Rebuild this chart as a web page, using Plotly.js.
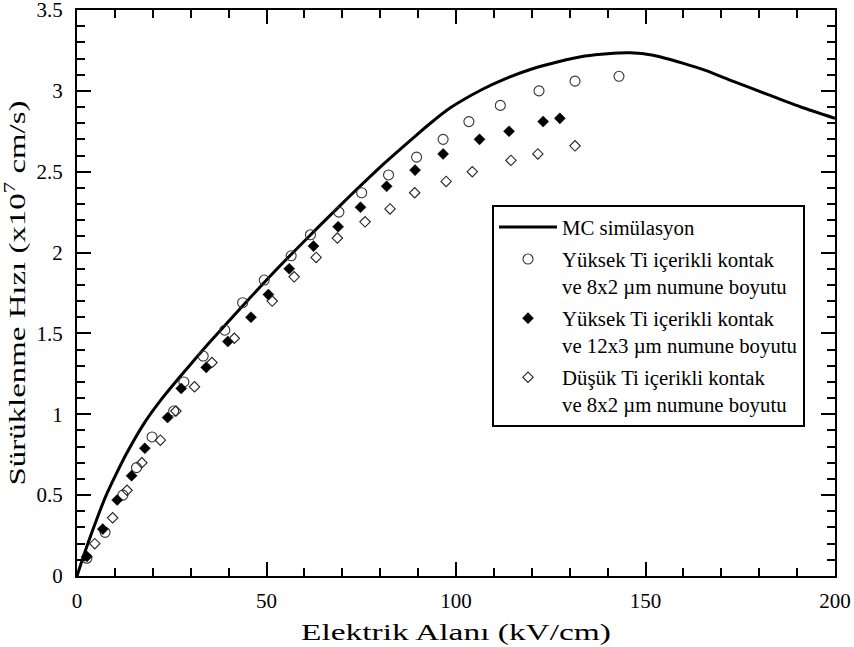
<!DOCTYPE html>
<html>
<head>
<meta charset="utf-8">
<script src="https://cdn.plot.ly/plotly-3.0.1.min.js"></script>
<style>
  html, body { margin: 0; padding: 0; background: #fff; }
  #chart { width: 854px; height: 647px; }
</style>
</head>
<body>
<div id="chart"></div>
<script>
// Monte Carlo simulated drift velocity (x10^7 cm/s) vs electric field (kV/cm)
const mcField = [0, 1, 2, 4, 6, 8, 10, 13, 18, 22, 26, 30, 35, 43.5, 52, 61, 67, 72, 81, 89.5, 93, 98.5, 107, 112.5, 120, 127, 134, 140, 146, 152, 160, 166, 173, 182, 191, 200];
const mcVelocity = [0, 0.072, 0.142, 0.275, 0.40, 0.515, 0.615, 0.755, 0.955, 1.085, 1.20, 1.31, 1.445, 1.665, 1.88, 2.095, 2.235, 2.35, 2.55, 2.725, 2.795, 2.895, 3.01, 3.07, 3.135, 3.18, 3.215, 3.23, 3.235, 3.22, 3.17, 3.125, 3.06, 2.98, 2.90, 2.83];

// High-Ti contact, 8x2 µm sample
const hiTi8x2Field = [2.6, 7.4, 12.1, 15.7, 19.8, 25.5, 28.2, 33.3, 39, 43.7, 49.4, 56.5, 61.6, 69.1, 75.1, 82.2, 89.6, 96.6, 103.4, 111.7, 121.9, 131.4, 143];
const hiTi8x2Velocity = [0.11, 0.27, 0.50, 0.67, 0.86, 1.02, 1.20, 1.36, 1.52, 1.69, 1.83, 1.98, 2.11, 2.25, 2.37, 2.48, 2.59, 2.70, 2.81, 2.91, 3.00, 3.06, 3.09];

// High-Ti contact, 12x3 µm sample
const hiTi12x3Field = [2.6, 6.8, 10.6, 14.4, 17.9, 23.9, 27.5, 34.1, 39.8, 45.9, 50.5, 56.0, 62.4, 68.9, 74.8, 81.7, 89.2, 96.6, 106.2, 114.0, 123.0, 127.4];
const hiTi12x3Velocity = [0.12, 0.29, 0.47, 0.62, 0.79, 0.98, 1.16, 1.29, 1.45, 1.60, 1.74, 1.90, 2.04, 2.16, 2.28, 2.41, 2.51, 2.61, 2.70, 2.75, 2.81, 2.83];

// Low-Ti contact, 8x2 µm sample
const loTi8x2Field = [4.7, 9.4, 13.2, 17.1, 22.0, 26.1, 31.0, 35.6, 41.5, 51.5, 57.3, 63.1, 68.7, 76.0, 82.6, 89.1, 97.4, 104.3, 114.5, 121.6, 131.4];
const loTi8x2Velocity = [0.20, 0.36, 0.53, 0.70, 0.84, 1.02, 1.17, 1.32, 1.47, 1.70, 1.85, 1.97, 2.09, 2.19, 2.27, 2.37, 2.44, 2.50, 2.57, 2.61, 2.66];

const seriesNames = [
  'MC simülasyon',
  'Yüksek Ti içerikli kontak<br>ve 8x2 µm numune boyutu',
  'Yüksek Ti içerikli kontak<br>ve 12x3 µm numune boyutu',
  'Düşük Ti içerikli kontak<br>ve 8x2 µm numune boyutu'
];

// Axis ticks
const xTickVals = [0, 50, 100, 150, 200];
const xTickText = ['0', '50', '100', '150', '200'];
const yTickVals = [0, 0.5, 1, 1.5, 2, 2.5, 3, 3.5];
const yTickText = ['0', '0.5', '1', '1.5', '2', '2.5', '3', '3.5'];

const FONT = "'Liberation Serif', 'Times New Roman', 'DejaVu Serif', serif";

const traces = [
  {
    x: mcField, y: mcVelocity, name: seriesNames[0], legendgroup: 'g0',
    type: 'scatter', mode: 'lines',
    line: { color: '#000', width: 3, shape: 'spline', smoothing: 0.6 }
  },
  {
    x: hiTi8x2Field, y: hiTi8x2Velocity, name: seriesNames[1], legendgroup: 'g1',
    type: 'scatter', mode: 'markers',
    marker: { symbol: 'circle-open', size: 10, color: '#333', line: { width: 1.1, color: '#333' } }
  },
  {
    x: hiTi12x3Field, y: hiTi12x3Velocity, name: seriesNames[2], legendgroup: 'g2',
    type: 'scatter', mode: 'markers',
    marker: { symbol: 'diamond', size: 8.5, color: '#000', line: { width: 0.5, color: '#000' } }
  },
  {
    x: loTi8x2Field, y: loTi8x2Velocity, name: seriesNames[3], legendgroup: 'g3',
    type: 'scatter', mode: 'markers',
    marker: { symbol: 'diamond-open', size: 8, color: '#222', line: { width: 1.1, color: '#222' } }
  }
];

const axisCommon = {
  showline: true, linecolor: '#000', linewidth: 2,
  mirror: 'allticks', ticks: 'inside', ticklen: 14, tickwidth: 2, tickcolor: '#000',
  showgrid: false, zeroline: false, tickmode: 'array',
  ticklabeloverflow: 'allow',
  tickfont: { family: FONT, size: 21, color: '#000' }
};

const layout = {
  width: 854, height: 647,
  margin: { l: 77, r: 19, t: 10, b: 71 },
  paper_bgcolor: '#fff', plot_bgcolor: '#fff',
  font: { family: FONT, color: '#000' },
  showlegend: true,
  xaxis: Object.assign({}, axisCommon, {
    range: [0, 200], tickvals: xTickVals, ticktext: xTickText,
    minor: { dtick: 10, tick0: 0, ticks: 'inside', ticklen: 8, tickwidth: 2, tickcolor: '#000', showgrid: false },
    ticklabelstandoff: 5,
    title: { text: 'Elektrik Alanı (kV/cm)', font: { family: FONT, size: 24, color: '#000' }, standoff: 11 }
  }),
  yaxis: Object.assign({}, axisCommon, {
    range: [0, 3.5], tickvals: yTickVals, ticktext: yTickText,
    minor: { dtick: 0.1, tick0: 0, ticks: 'inside', ticklen: 8, tickwidth: 2, tickcolor: '#000', showgrid: false },
    ticklabelstandoff: 8,
    title: { text: 'Sürüklenme Hızı (x10<sup>7</sup> cm/s)', font: { family: FONT, size: 24, color: '#000' }, standoff: 6 }
  }),
  legend: {
    x: 0.5475, y: 0.6555, xanchor: 'left', yanchor: 'top',
    bgcolor: '#fff', bordercolor: '#000', borderwidth: 2,
    font: { family: FONT, size: 20.8, color: '#000' },
    valign: 'top', itemwidth: 58,
    tracegroupgap: 2
  }
};

// Axis titles use a wide setting of the serif face: stretch them along their baseline.
function widenTitles() {
  const stretch = [['.xtitle', 310], ['.ytitle', 385]];
  stretch.forEach(([sel, len]) => {
    const el = document.querySelector('#chart ' + sel);
    if (el) {
      el.setAttribute('textLength', len);
      el.setAttribute('lengthAdjust', 'spacingAndGlyphs');
    }
  });
}

Plotly.newPlot('chart', traces, layout, { displayModeBar: false, staticPlot: true }).then(widenTitles);
</script>
</body>
</html>
